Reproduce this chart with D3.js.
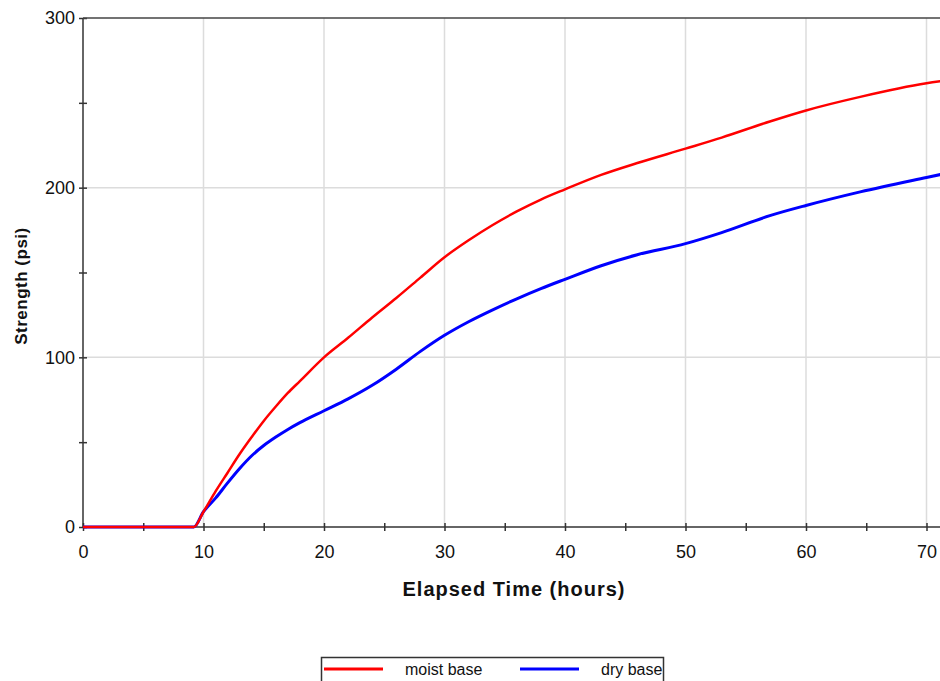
<!DOCTYPE html>
<head>
    <meta charset="utf-8">
    <script src="https://d3js.org/d3.v7.min.js"></script>
    <style>
        body { margin: 0; background: #fff; overflow: hidden; }
        text { font-family: "Liberation Sans", Arial, sans-serif; fill: #111; }
        .tick text { font-size: 18px; }
        text.axisTitle { font-size: 20px; font-weight: bold; letter-spacing: 1px; }
        text.legendText { font-size: 16px; }
        .grid line { stroke: #dcdcdc; stroke-width: 1.5; }
    </style>
</head>
<body>
<div id="chart"></div>
<script>
    // elapsed time (hours) and strength (psi)
    const hours = [0, 9.2, 10, 11, 12, 13, 14, 15, 16, 17, 18, 20, 22, 24, 26, 28, 30, 32, 34, 36, 38, 40, 43, 46, 50, 53, 57, 60, 64.5, 70, 72];
    const moistBase = [0, 0, 9, 21, 32, 43, 53, 62.5, 71, 79, 86, 100, 111.5, 123.5, 135, 147, 159, 169, 178, 186, 193, 199, 207.5, 214.5, 223, 229.5, 239, 245.5, 253.5, 261.5, 263.5];
    const dryBase = [0, 0, 9, 17, 26, 34.5, 42, 48, 53, 57.5, 61.5, 68.5, 75.5, 83.5, 93, 103.5, 113, 121, 128, 134.5, 140.5, 146, 154, 160.5, 167, 173.5, 183.5, 189.5, 197.5, 206, 209];
    const xTicks = [0, 10, 20, 30, 40, 50, 60, 70];
    const yTicks = [0, 100, 200, 300];
    const seriesNames = ["moist base", "dry base"];
    const seriesColours = ["#ff0000", "#0000ff"];

    const width = 940, height = 681;
    const margin = { top: 18, left: 83 };
    const plotBottom = 527;

    const svg = d3.select("#chart").append("svg")
        .attr("width", width)
        .attr("height", height);

    let x = d3.scaleLinear().domain([0, 72]).range([margin.left, margin.left + 72 * 12.05]);
    let y = d3.scaleLinear().domain([0, 300]).range([plotBottom, margin.top]);

    // gridlines
    svg.append("g").attr("class", "grid")
        .selectAll("line.v")
        .data(xTicks.filter(d => d > 0))
        .enter().append("line")
        .attr("x1", d => x(d)).attr("x2", d => x(d))
        .attr("y1", y(300)).attr("y2", y(0));

    svg.append("g").attr("class", "grid")
        .selectAll("line.h")
        .data(yTicks.filter(d => d > 0 && d < 300))
        .enter().append("line")
        .attr("x1", x(0)).attr("x2", width)
        .attr("y1", d => y(d)).attr("y2", d => y(d));

    // axes
    let xAxis = d3.axisBottom(x).tickValues(d3.range(0, 75, 5)).tickSize(4)
        .tickFormat(d => xTicks.includes(d) ? d : "");
    let yAxis = d3.axisLeft(y).tickValues(d3.range(0, 325, 50)).tickSize(4)
        .tickFormat(d => yTicks.includes(d) ? d : "");

    function styleAxis(g) {
        g.select(".domain").remove();
        g.selectAll(".tick line").attr("stroke", "#333").attr("stroke-width", 1.5);
        g.selectAll(".tick text").attr("fill", "#111");
    }

    svg.append("g")
        .attr("transform", `translate(0, ${plotBottom})`)
        .call(xAxis)
        .call(styleAxis)
        .call(g => g.selectAll(".tick line").attr("y1", -4))
        .call(g => g.selectAll(".tick text").attr("y", 18));

    svg.append("g")
        .attr("transform", `translate(${margin.left}, 0)`)
        .call(yAxis)
        .call(styleAxis)
        .call(g => g.selectAll(".tick line").attr("x1", 4))
        .call(g => g.selectAll(".tick text").attr("x", -8));

    // frame lines
    svg.append("line")
        .attr("x1", x(0)).attr("x2", x(0)).attr("y1", y(300)).attr("y2", y(0))
        .attr("stroke", "#333").attr("stroke-width", 1.5);
    svg.append("line")
        .attr("x1", x(0)).attr("x2", width).attr("y1", y(0)).attr("y2", y(0))
        .attr("stroke", "#333").attr("stroke-width", 1.5);
    svg.append("line")
        .attr("x1", x(0)).attr("x2", width).attr("y1", y(300)).attr("y2", y(300))
        .attr("stroke", "#444").attr("stroke-width", 1.5);

    // series lines
    let line = d3.line()
        .x(d => x(d[0]))
        .y(d => y(d[1]))
        .curve(d3.curveMonotoneX);

    const series = [dryBase, moistBase];
    const colours = [seriesColours[1], seriesColours[0]];
    const widths = [3, 2.5];
    series.forEach((vals, i) => {
        svg.append("path")
            .datum(hours.map((h, j) => [h, vals[j]]))
            .attr("fill", "none")
            .attr("stroke", colours[i])
            .attr("stroke-width", widths[i])
            .attr("d", line);
    });

    // axis titles
    svg.append("text")
        .attr("class", "axisTitle")
        .attr("x", 514)
        .attr("y", 596)
        .style("text-anchor", "middle")
        .text("Elapsed Time (hours)");

    svg.append("text")
        .attr("class", "axisTitle")
        .attr("transform", "translate(27, 286) rotate(-90)")
        .style("text-anchor", "middle")
        .style("font-size", "17px")
        .style("letter-spacing", "0.5px")
        .text("Strength (psi)");

    // legend
    let legend = svg.append("g");
    legend.append("rect")
        .attr("x", 321.5).attr("y", 657.5)
        .attr("width", 342).attr("height", 40)
        .attr("fill", "#fff").attr("stroke", "#333").attr("stroke-width", 1.5);

    const legendX = [324, 520];
    seriesNames.forEach((name, i) => {
        legend.append("line")
            .attr("x1", legendX[i]).attr("x2", legendX[i] + 59)
            .attr("y1", 669).attr("y2", 669)
            .attr("stroke", seriesColours[i]).attr("stroke-width", 3);
        legend.append("text")
            .attr("class", "legendText")
            .attr("x", legendX[i] + 81)
            .attr("y", 675)
            .text(name);
    });
</script>
</body>
